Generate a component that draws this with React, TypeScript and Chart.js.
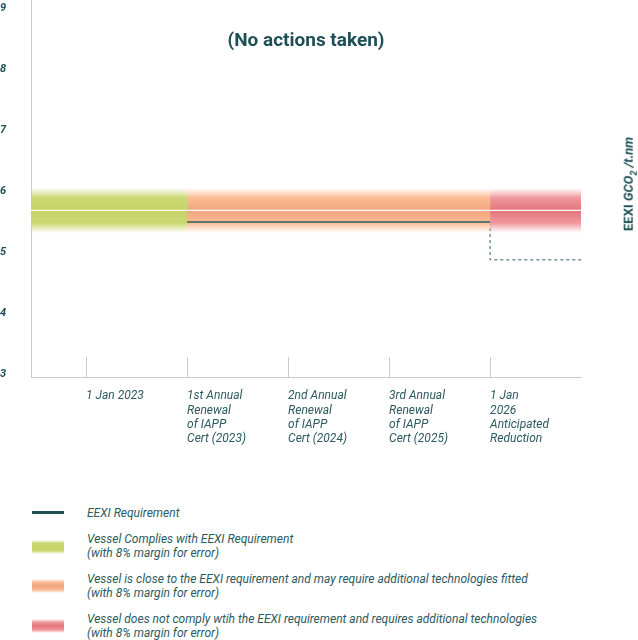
import React, { useEffect, useRef } from "react";
import { Chart, registerables } from "chart.js";

Chart.register(...registerables);

// ---- data ----
const xTickValues = [0, 1, 2, 3, 4];
const xTickLabels: string[][] = [
  ["1 Jan 2023"],
  ["1st Annual", "Renewal", "of IAPP", "Cert (2023)"],
  ["2nd Annual", "Renewal", "of IAPP", "Cert (2024)"],
  ["3rd Annual", "Renewal", "of IAPP", "Cert (2025)"],
  ["1 Jan", "2026", "Anticipated", "Reduction"],
];
const yTickValues = [3, 4, 5, 6, 7, 8, 9];
const xMin = -0.545;
const xMax = 4.9;
const yMin = 2.96;
const yMax = 9.14;

const bandNames = ["complies", "close", "notComply"];
const bandStarts = [xMin, 1, 4];
const bandEnds = [1, 4, xMax];
const bandTop = 6.06;
const bandBottom = 5.32;
const bandCentre = 5.69;

const requirementX = [1, 4];
const requirementY = [5.5, 5.5];
const anticipatedX = [4, 4, xMax];
const anticipatedY = [5.5, 4.88, 4.88];

const legendLabels = [
  ["EEXI Requirement"],
  ["Vessel Complies with EEXI Requirement", "(with 8% margin for error)"],
  ["Vessel is close to the EEXI requirement and may require additional technologies fitted", "(with 8% margin for error)"],
  ["Vessel does not comply wtih the EEXI requirement and requires additional technologies", "(with 8% margin for error)"],
];

// ---- styles ----
const TEAL = "#1e4f55";
const TEXT = "#2c5a60";
const AXIS = "#c3ccd0";
const bandStops: string[][] = [
  ["rgba(205,218,120,0)", "rgba(203,216,115,1)", "rgba(198,211,104,1)", "rgba(203,216,115,1)", "rgba(205,218,120,0)"],
  ["rgba(252,192,152,0)", "rgba(251,188,146,1)", "rgba(240,166,128,1)", "rgba(251,188,146,1)", "rgba(252,192,152,0)"],
  ["rgba(243,165,172,0)", "rgba(240,152,158,1)", "rgba(226,118,124,1)", "rgba(240,152,158,1)", "rgba(243,165,172,0)"],
];
const stopPos = [0, 0.22, 0.5, 0.78, 1];

function bandFill(chart: any, idx: number) {
  const y = chart.scales && chart.scales.y;
  const stops = bandStops[idx];
  if (!y) return stops[2];
  const top = y.getPixelForValue(bandTop);
  const bot = y.getPixelForValue(bandBottom);
  if (!isFinite(top) || !isFinite(bot)) return stops[2];
  const g = chart.ctx.createLinearGradient(0, top, 0, bot);
  stops.forEach((c, i) => g.addColorStop(stopPos[i], c));
  return g;
}

const innerTicks = {
  id: "innerTicks",
  beforeDatasetsDraw(chart: any) {
    const { ctx, chartArea } = chart;
    const x = chart.scales.x;
    ctx.save();
    ctx.strokeStyle = AXIS;
    ctx.lineWidth = 1;
    x.ticks.forEach((t: any) => {
      const px = Math.round(x.getPixelForValue(t.value)) + 0.5;
      ctx.beginPath();
      ctx.moveTo(px, chartArea.bottom);
      ctx.lineTo(px, chartArea.bottom - 20);
      ctx.stroke();
    });
    ctx.restore();
  },
};

function ChartCanvas() {
  const ref = useRef<HTMLCanvasElement | null>(null);
  useEffect(() => {
    if (!ref.current) return;
    const bands = bandNames.map((name, i) => ({
      label: name,
      data: [
        { x: bandStarts[i], y: bandTop },
        { x: bandEnds[i], y: bandTop },
      ],
      borderColor: "rgba(0,0,0,0)",
      borderWidth: 0,
      pointRadius: 0,
      fill: { value: bandBottom },
      backgroundColor: (c: any) => bandFill(c.chart, i),
      order: 3,
    }));
    const chart = new Chart(ref.current, {
      type: "line",
      data: {
        datasets: [
          {
            label: "EEXI Requirement",
            data: requirementX.map((x, i) => ({ x, y: requirementY[i] })),
            borderColor: "#2a5f66",
            borderWidth: 1.5,
            pointRadius: 0,
            fill: false,
            order: 0,
          },
          {
            label: "centre",
            data: [
              { x: xMin, y: bandCentre },
              { x: xMax, y: bandCentre },
            ],
            borderColor: "#ffffff",
            borderWidth: 1.2,
            pointRadius: 0,
            fill: false,
            order: 1,
          },
          ...bands,
          {
            label: "Anticipated",
            data: anticipatedX.map((x, i) => ({ x, y: anticipatedY[i] })),
            borderColor: "#2a5f66",
            borderWidth: 1,
            borderDash: [3, 3],
            pointRadius: 0,
            fill: false,
            order: 5,
          },
        ] as any,
      },
      options: {
        responsive: false,
        animation: false,
        layout: { padding: { left: 0, right: 57, top: 0, bottom: 0 } },
        plugins: { legend: { display: false }, tooltip: { enabled: false } },
        scales: {
          x: {
            type: "linear",
            min: xMin,
            max: xMax,
            afterBuildTicks: (s: any) => {
              s.ticks = xTickValues.map((v) => ({ value: v }));
            },
            afterFit: (s: any) => {
              s.height = 83;
              s.paddingLeft = 0;
              s.paddingRight = 0;
            },
            grid: { display: false, drawTicks: false },
            border: { display: true, color: AXIS, width: 1 },
            ticks: {
              autoSkip: false,
              maxRotation: 0,
              minRotation: 0,
              align: "start",
              padding: 12,
              color: TEXT,
              font: { family: "Roboto", size: 12, style: "italic", lineHeight: 1.2 },
              callback: (_v: any, i: number) => xTickLabels[i],
            },
          },
          y: {
            type: "linear",
            min: yMin,
            max: yMax,
            afterBuildTicks: (s: any) => {
              s.ticks = yTickValues.map((v) => ({ value: v }));
            },
            afterFit: (s: any) => {
              s.width = 31;
              s.paddingTop = 0;
              s.paddingBottom = 0;
            },
            grid: { display: false, drawTicks: false },
            border: { display: true, color: AXIS, width: 1 },
            ticks: {
              crossAlign: "far",
              padding: 0,
              color: TEAL,
              font: { family: "Roboto", size: 11, style: "italic", weight: "bold" },
              callback: (v: any) => String(v),
            },
          },
        },
      } as any,
      plugins: [innerTicks],
    });
    return () => chart.destroy();
  }, []);
  return (
    <canvas
      ref={ref}
      width={638}
      height={460}
      style={{ position: "absolute", left: 0, top: 0, width: 638, height: 460 }}
    />
  );
}

const legendSwatchTops = [511, 540, 579, 619];
const legendTextTops = [506, 532, 572, 612];

function swatchStyle(i: number): React.CSSProperties {
  if (i === 0) {
    return { position: "absolute", left: 32, top: legendSwatchTops[0], width: 32, height: 3, background: "#1f4d52" };
  }
  const s = bandStops[i - 1];
  return {
    position: "absolute",
    left: 32,
    top: legendSwatchTops[i],
    width: 32,
    height: 14,
    background: `linear-gradient(to bottom, ${s[0]} 0%, ${s[1]} 22%, ${s[2]} 50%, ${s[3]} 78%, ${s[4]} 100%)`,
  };
}

export default function App() {
  return (
    <div style={{ position: "absolute", left: 0, top: 0, width: 638, height: 640, background: "#fff", fontFamily: "Roboto, sans-serif" }}>
      <ChartCanvas />
      <div
        style={{
          position: "absolute",
          left: 306,
          top: 39,
          transform: "translate(-50%, -50%)",
          fontWeight: 700,
          fontSize: 19,
          color: TEAL,
          whiteSpace: "nowrap",
        }}
      >
        (No actions taken)
      </div>
      <div
        style={{
          position: "absolute",
          left: 631,
          top: 184,
          transform: "translate(-50%, -50%) rotate(-90deg)",
          fontWeight: 700,
          fontSize: 13,
          color: TEAL,
          whiteSpace: "nowrap",
          lineHeight: "14px",
        }}
      >
        EEXI <span style={{ fontStyle: "italic" }}>GCO<sub style={{ fontSize: 9 }}>2</sub> /t.nm</span>
      </div>
      {legendLabels.map((lines, i) => (
        <React.Fragment key={i}>
          <div style={swatchStyle(i)} />
          <div
            style={{
              position: "absolute",
              left: 87,
              top: legendTextTops[i],
              fontStyle: "italic",
              fontSize: 12,
              lineHeight: "14px",
              color: TEXT,
              whiteSpace: "nowrap",
            }}
          >
            {lines.map((l, j) => (
              <div key={j}>{l}</div>
            ))}
          </div>
        </React.Fragment>
      ))}
    </div>
  );
}
